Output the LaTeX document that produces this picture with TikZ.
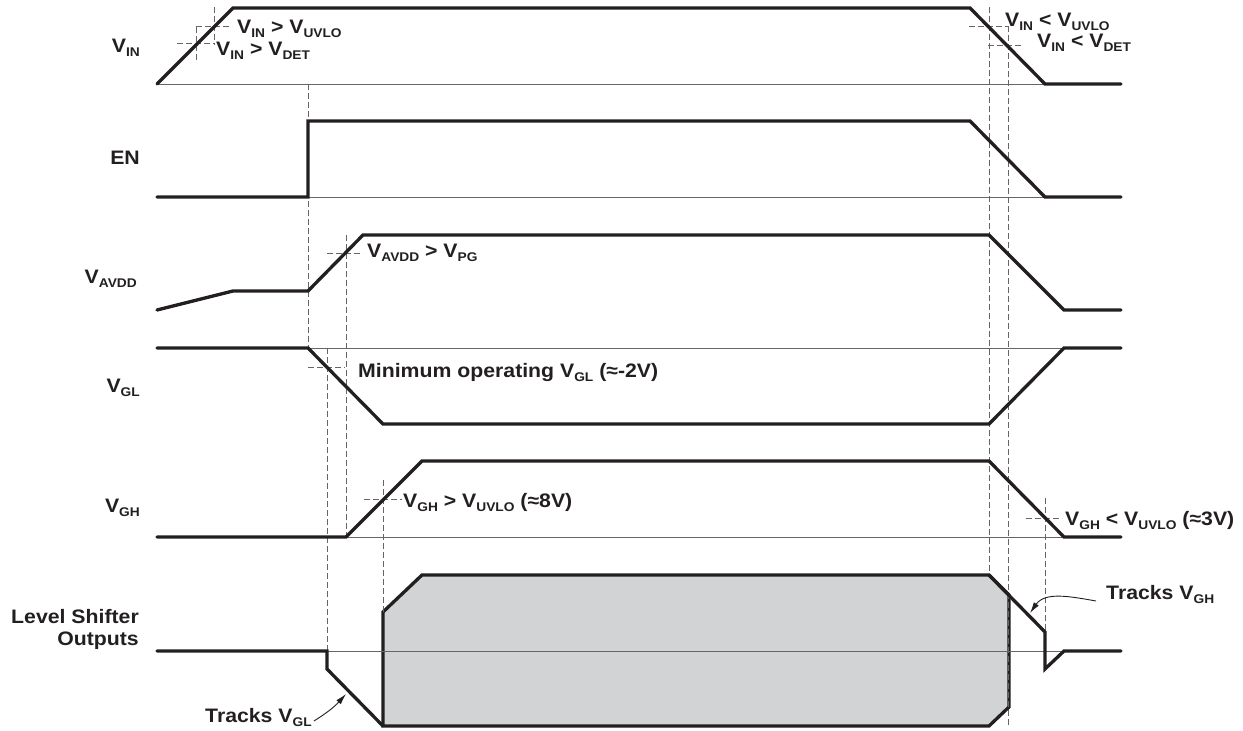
\documentclass[tikz,border=0pt]{standalone}
\usepackage{fontspec}
\setmainfont{Liberation Sans}[FakeStretch=1.09]
\usetikzlibrary{arrows.meta}

\definecolor{tdink}{RGB}{35,31,32}
\definecolor{tdfill}{RGB}{210,211,213}

\newcommand{\tdsub}[1]{\raisebox{-4pt}{\fontsize{12.6}{13}\selectfont #1}}

\tikzset{
  tdwave/.style={line width=3.3pt, draw=tdink, line cap=round, line join=miter},
  tdbase/.style={line width=.8pt, draw=black!60},
  tdguide/.style={line width=.9pt, draw=black!60, dash pattern=on 6pt off 3pt},
  tdlabel/.style={inner sep=0pt, text=tdink, font=\fontsize{19.5}{22}\selectfont\bfseries},
  tdarrow/.style={line width=.9pt, draw=tdink, -{Latex[length=11pt,width=6pt]}}
}

\begin{document}
\begin{tikzpicture}[x=1pt, y=-1pt]
\useasboundingbox (0,0) rectangle (1243,731);

\filldraw[tdwave, fill=tdfill] (383,726) -- (383,612) -- (422,575) -- (989,575) -- (1009,595) -- (1009,707) -- (989,726) -- cycle;

\draw[tdbase] (157,84) -- (1121,84);
\draw[tdbase] (157,197) -- (1121,197);
\draw[tdbase] (157,348) -- (1121,348);
\draw[tdbase] (157,537) -- (1121,537);
\draw[tdbase] (157,651) -- (1121,651);

\draw[tdguide] (196,26) -- (232,26);
\draw[tdguide] (214,7) -- (214,45);
\draw[tdguide] (177,43) -- (214,43);
\draw[tdguide] (196,27) -- (196,62);

\draw[tdguide] (969,26) -- (1008,26);
\draw[tdguide] (989,7) -- (989,575);
\draw[tdguide] (988,45) -- (1023,45);
\draw[tdguide] (1008,26) -- (1008,726);

\draw[tdguide] (308,84) -- (308,348);

\draw[tdguide] (327,253) -- (363,253);
\draw[tdguide] (346,235) -- (346,537);

\draw[tdguide] (308,367) -- (345,367);
\draw[tdguide] (327,348) -- (327,650);

\draw[tdguide] (364,499) -- (402,499);
\draw[tdguide] (383,480) -- (383,612);

\draw[tdguide] (1026,518) -- (1062,518);
\draw[tdguide] (1045,498) -- (1045,632);

\draw[tdwave] (157,84) -- (233,8) -- (970,8) -- (1045,84) -- (1121,84);
\draw[tdwave] (157,197) -- (308,197) -- (308,121) -- (970,121) -- (1045,197) -- (1121,197);
\draw[tdwave] (157,310) -- (233,291) -- (308,291) -- (363,235) -- (989,235) -- (1064,310) -- (1121,310);
\draw[tdwave] (157,348) -- (308,348) -- (383,424) -- (989,424) -- (1064,348) -- (1121,348);
\draw[tdwave] (157,537) -- (346,537) -- (422,461) -- (989,461) -- (1064,537) -- (1121,537);
\draw[tdwave] (157,651) -- (327,651) -- (327,669) -- (383,726);
\draw[tdwave] (989,575) -- (1045,632) -- (1045,669) -- (1064,651) -- (1121,651);

\node[tdlabel, anchor=base east] (lVIN) at (140,52) {V\tdsub{IN}};
\node[tdlabel, anchor=base east] (lEN) at (140,164) {EN};
\node[tdlabel, anchor=base east] (lAVDD) at (137,283) {V\tdsub{AVDD}};
\node[tdlabel, anchor=base east] (lVGL) at (140,392) {V\tdsub{GL}};
\node[tdlabel, anchor=base east] (lVGH) at (140,512) {V\tdsub{GH}};
\node[tdlabel, anchor=base east, align=right] (lLS) at (139,645) {Level Shifter\\Outputs};

\node[tdlabel, anchor=base west] (vinUvloOn) at (237,33) {V\tdsub{IN} > V\tdsub{UVLO}};
\node[tdlabel, anchor=base west] (vinDetOn) at (216,55) {V\tdsub{IN} > V\tdsub{DET}};
\node[tdlabel, anchor=base west] (vinUvloOff) at (1005,26) {V\tdsub{IN} < V\tdsub{UVLO}};
\node[tdlabel, anchor=base west] (vinDetOff) at (1037,47) {V\tdsub{IN} < V\tdsub{DET}};
\node[tdlabel, anchor=base west] (avddPg) at (367,257) {V\tdsub{AVDD} > V\tdsub{PG}};
\node[tdlabel, anchor=base west] (vglMin) at (358,377) {Minimum operating V\tdsub{GL} (≈-2V)};
\node[tdlabel, anchor=base west] (vghOn) at (403,507) {V\tdsub{GH} > V\tdsub{UVLO} (≈8V)};
\node[tdlabel, anchor=base west] (vghOff) at (1065,525) {V\tdsub{GH} < V\tdsub{UVLO} (≈3V)};
\node[tdlabel, anchor=base west] (trackGH) at (1106,599) {Tracks V\tdsub{GH}};
\node[tdlabel, anchor=base west] (trackGL) at (205,722) {Tracks V\tdsub{GL}};

\coordinate (ghTip) at (1030,613);
\coordinate (glTip) at (346,694);

\draw[tdarrow] ([xshift=-10pt, yshift=-7pt]trackGH.west) to[out=170, in=55] (ghTip);
\draw[tdarrow] ([xshift=2pt, yshift=-4pt]trackGL.east) to[bend right=8] (glTip);
\end{tikzpicture}
\end{document}
